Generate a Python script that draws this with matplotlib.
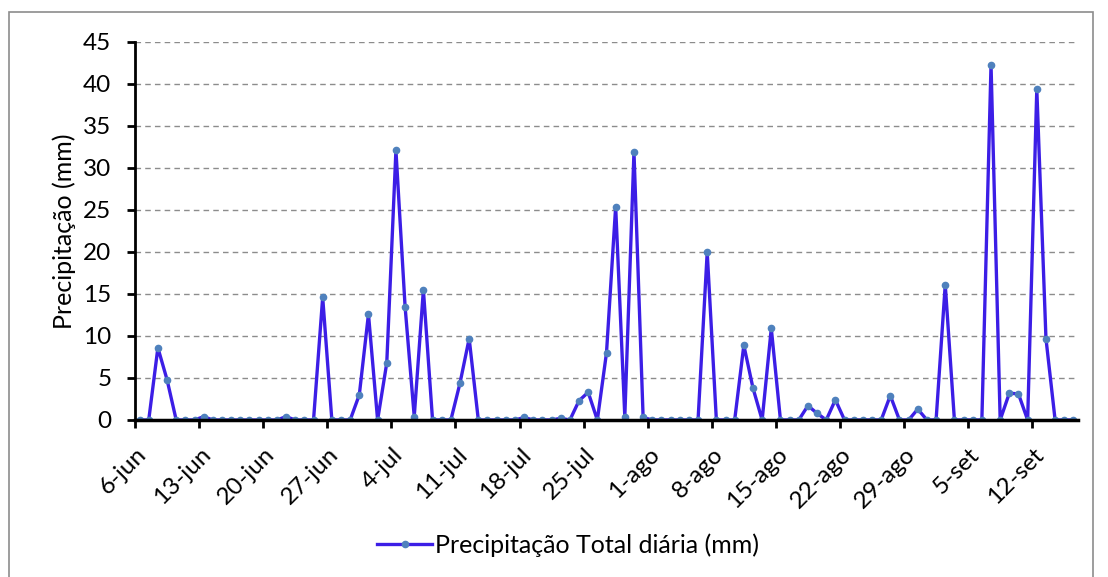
import matplotlib.pyplot as plt
from matplotlib.patches import Rectangle

plt.rcParams['font.family'] = ['Lato', 'DejaVu Sans']

# daily precipitation, 6-jun .. 16-set (103 days)
precip = [
    0, 0, 8.6, 4.8, 0, 0, 0, 0.4, 0, 0,          # 6-jun .. 15-jun
    0, 0, 0, 0, 0, 0, 0.4, 0, 0, 0,              # 16-jun .. 25-jun
    14.6, 0, 0, 0, 3.0, 12.6, 0, 6.8, 32.1, 13.5,  # 26-jun .. 5-jul
    0.4, 15.5, 0, 0, 0, 4.4, 9.7, 0, 0, 0,       # 6-jul .. 15-jul
    0, 0, 0.3, 0, 0, 0, 0.2, 0, 2.3, 3.3,        # 16-jul .. 25-jul
    0, 8.0, 25.4, 0.4, 31.9, 0.3, 0, 0, 0, 0,    # 26-jul .. 4-ago
    0, 0, 20.0, 0, 0, 0, 8.9, 3.8, 0, 10.9,      # 5-ago .. 14-ago
    0, 0, 0, 1.7, 0.8, 0, 2.4, 0, 0, 0,          # 15-ago .. 24-ago
    0, 0, 2.9, 0, 0, 1.3, 0, 0, 16.1, 0,         # 25-ago .. 3-set
    0, 0, 0, 42.3, 0, 3.2, 3.1, 0, 39.4, 9.7,    # 4-set .. 13-set
    0, 0, 0,                                     # 14-set .. 16-set
]
tick_labels = ["6-jun", "13-jun", "20-jun", "27-jun", "4-jul", "11-jul", "18-jul",
               "25-jul", "1-ago", "8-ago", "15-ago", "22-ago", "29-ago", "5-set", "12-set"]
yticks = [0, 5, 10, 15, 20, 25, 30, 35, 40, 45]

fig = plt.figure(figsize=(11.08, 5.77), dpi=100)
fig.patches.append(Rectangle((9 / 1108, -0.05), 1084 / 1108, 1 - 12 / 577 + 0.05,
                             transform=fig.transFigure, fill=False,
                             edgecolor="#8c8c8c", linewidth=1.2))

ax = fig.add_axes([135 / 1108, 1 - 420 / 577, 943 / 1108, 378 / 577])
days = list(range(len(precip)))
ax.plot(days, precip, color="#3c1ee6", linewidth=2.4, marker="o", markersize=4.5,
        markerfacecolor="#4f81bd", markeredgecolor="#4f81bd",
        label="Precipitação Total diária (mm)")

ax.set_xlim(-0.5, len(precip) - 0.5)
ax.set_ylim(0, 45)
ax.set_yticks(yticks)
# week boundaries get the tick marks, labels sit a little to the right
ax.set_xticks([i * 7 - 0.5 for i in range(len(tick_labels))], minor=True)
ax.set_xticks([i * 7 + 1.2 for i in range(len(tick_labels))])
ax.set_xticklabels(tick_labels, rotation=45, ha="right")

ax.yaxis.grid(True, linestyle=(0, (4, 3)), color="#8c8c8c", linewidth=1)
ax.set_axisbelow(True)
for s in ["top", "right"]:
    ax.spines[s].set_visible(False)
ax.spines["left"].set_linewidth(2)
ax.spines["bottom"].set_linewidth(2.5)
ax.tick_params(axis="y", length=6, width=2, labelsize=17.5, pad=11)
ax.tick_params(axis="x", which="major", length=0, labelsize=17.5, pad=17)
ax.tick_params(axis="x", which="minor", length=6, width=2)
ax.set_ylabel("Precipitação (mm)", fontsize=18)
ax.yaxis.set_label_coords(-0.063, 0.5)

ax.legend(loc="center", bbox_to_anchor=(568 / 1108, 1 - 545 / 577),
          bbox_transform=fig.transFigure, frameon=False, fontsize=18,
          handlelength=2.2, handletextpad=0.1)

fig.savefig("out.png", dpi=100)
